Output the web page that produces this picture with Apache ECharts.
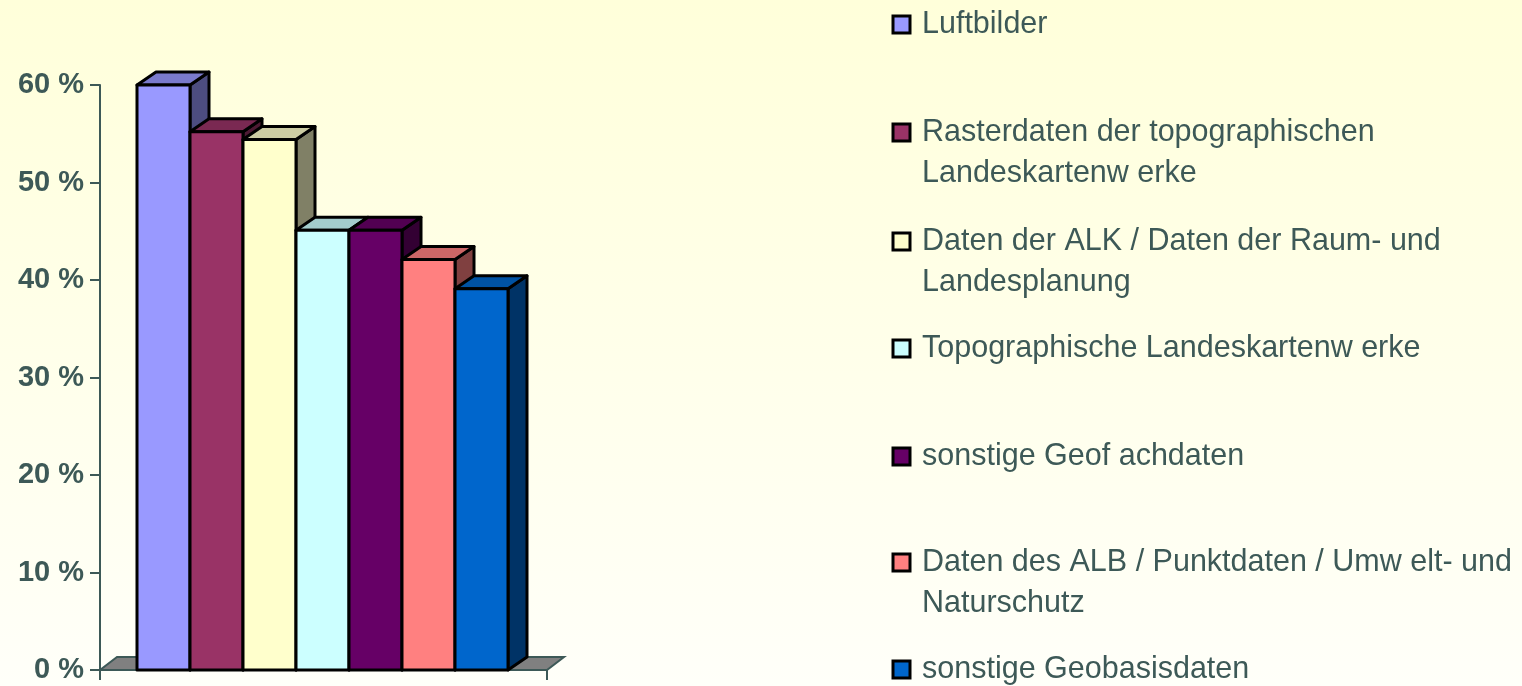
<!DOCTYPE html>
<html>
<head>
<meta charset="utf-8">
<script src="https://cdn.jsdelivr.net/npm/echarts@6/dist/echarts.min.js"></script>
<style>
html,body{margin:0;padding:0;}
#chart{width:1522px;height:686px;}
</style>
</head>
<body>
<div id="chart"></div>
<script>
// ---- data ----
const seriesNames = [
  'Luftbilder',
  'Rasterdaten der topographischen\nLandeskartenw erke',
  'Daten der ALK / Daten der Raum- und\nLandesplanung',
  'Topographische Landeskartenw erke',
  'sonstige Geof achdaten',
  'Daten des ALB / Punktdaten / Umw elt- und\nNaturschutz',
  'sonstige Geobasisdaten'
];
const seriesValues = [60, 55.2, 54.4, 45.1, 45.1, 42.1, 39.1];
const seriesColors = ['#9999FF', '#993366', '#FFFFCC', '#CCFFFF', '#660066', '#FF8080', '#0066CC'];
const categories = [''];
const yTicks = [0, 10, 20, 30, 40, 50, 60];

// ---- helpers ----
function shade(hex, f) {
  const n = parseInt(hex.slice(1), 16);
  const r = Math.round(((n >> 16) & 255) * f);
  const g = Math.round(((n >> 8) & 255) * f);
  const b = Math.round((n & 255) * f);
  return 'rgb(' + r + ',' + g + ',' + b + ')';
}
const DX = 19, DY = -13;
const AXIS_COLOR = '#3D5957';
const LINE_H = 41;
const ICON = 17;

function barRenderer(idx) {
  return function (params, api) {
    const base = api.coord([0, 0]);
    const top = api.coord([0, api.value(1)]);
    const band = api.size([1, 0])[0];
    const left = base[0] - band / 2;
    const w = band * 53 / 447;
    const x0 = left + band * 37 / 447 + idx * w;
    const x1 = x0 + w;
    const y0 = top[1], yb = base[1];
    const color = seriesColors[idx];
    const st = {stroke: '#000', lineWidth: 3, lineJoin: 'round'};
    return {
      type: 'group',
      children: [
        {type: 'polygon', shape: {points: [[x1, y0], [x1 + DX, y0 + DY], [x1 + DX, yb + DY], [x1, yb]]},
         style: Object.assign({fill: shade(color, 0.5)}, st)},
        {type: 'polygon', shape: {points: [[x0, y0], [x0 + DX, y0 + DY], [x1 + DX, y0 + DY], [x1, y0]]},
         style: Object.assign({fill: shade(color, 0.8)}, st)},
        {type: 'rect', shape: {x: x0, y: y0, width: w, height: yb - y0},
         style: Object.assign({fill: color}, st)}
      ]
    };
  };
}

function floorRenderer(params, api) {
  const base = api.coord([0, 0]);
  const band = api.size([1, 0])[0];
  const l = base[0] - band / 2, r = base[0] + band / 2, y = base[1];
  return {
    type: 'polygon',
    shape: {points: [[l, y], [l + 17, y - 13], [r + 17, y - 13], [r, y]]},
    style: {fill: '#808080', stroke: AXIS_COLOR, lineWidth: 2}
  };
}

const series = [{
  type: 'custom',
  name: '__floor',
  renderItem: floorRenderer,
  data: [[0, 0]],
  z: 1,
  silent: true
}];
seriesNames.forEach(function (nm, i) {
  series.push({
    type: 'custom',
    name: nm,
    renderItem: barRenderer(i),
    itemStyle: {color: seriesColors[i]},
    data: [[0, seriesValues[i]]],
    z: 2 + i
  });
});

// legend: one component per entry so rows match the reference spacing
const legendCenters = [23, 131, 240, 347, 455, 561, 668];
const legends = seriesNames.map(function (nm, i) {
  const twoLines = nm.indexOf('\n') >= 0;
  // for two-line entries the square sits at the top of a taller icon box,
  // so it lines up with the first text line
  const icon = twoLines ? 'path://M0,0h' + ICON + 'v' + ICON + 'h-' + ICON + 'zM0,' + (ICON + LINE_H) : 'rect';
  return {
    data: [nm],
    orient: 'vertical',
    left: 891.5,
    top: legendCenters[i] - LINE_H / 2 + 1.5,
    padding: 0,
    itemWidth: ICON,
    itemHeight: twoLines ? ICON + LINE_H : ICON,
    icon: icon,
    selectedMode: false,
    itemStyle: {borderColor: '#000', borderWidth: 3},
    textStyle: {
      fontFamily: 'Liberation Sans, Arial, sans-serif',
      fontSize: 30.5,
      color: '#3D5957',
      lineHeight: LINE_H,
      padding: [0, 0, 0, 7]
    }
  };
});

const chart = echarts.init(document.getElementById('chart'), null, {renderer: 'canvas'});
chart.setOption({
  animation: false,
  backgroundColor: new echarts.graphic.LinearGradient(0, 0, 0, 1, [
    {offset: 0, color: '#FFFFDA'},
    {offset: 1, color: '#FFFFF9'}
  ]),
  grid: {left: 100, right: 975, top: 85, bottom: 16, containLabel: false},
  xAxis: {
    type: 'category',
    data: categories,
    boundaryGap: true,
    axisLine: {show: true, lineStyle: {color: AXIS_COLOR, width: 2}},
    axisTick: {show: true, length: 10, lineStyle: {color: AXIS_COLOR, width: 2}},
    axisLabel: {show: false},
    z: 0
  },
  yAxis: {
    type: 'value',
    min: yTicks[0],
    max: yTicks[yTicks.length - 1],
    interval: 10,
    axisLine: {show: true, lineStyle: {color: AXIS_COLOR, width: 2}},
    axisTick: {show: true, length: 10, lineStyle: {color: AXIS_COLOR, width: 2}},
    splitLine: {show: false},
    axisLabel: {
      formatter: '{value} %',
      fontFamily: 'Liberation Sans, Arial, sans-serif',
      fontWeight: 'bold',
      fontSize: 29,
      color: AXIS_COLOR,
      margin: 16
    }
  },
  legend: legends,
  series: series
});
</script>
</body>
</html>
